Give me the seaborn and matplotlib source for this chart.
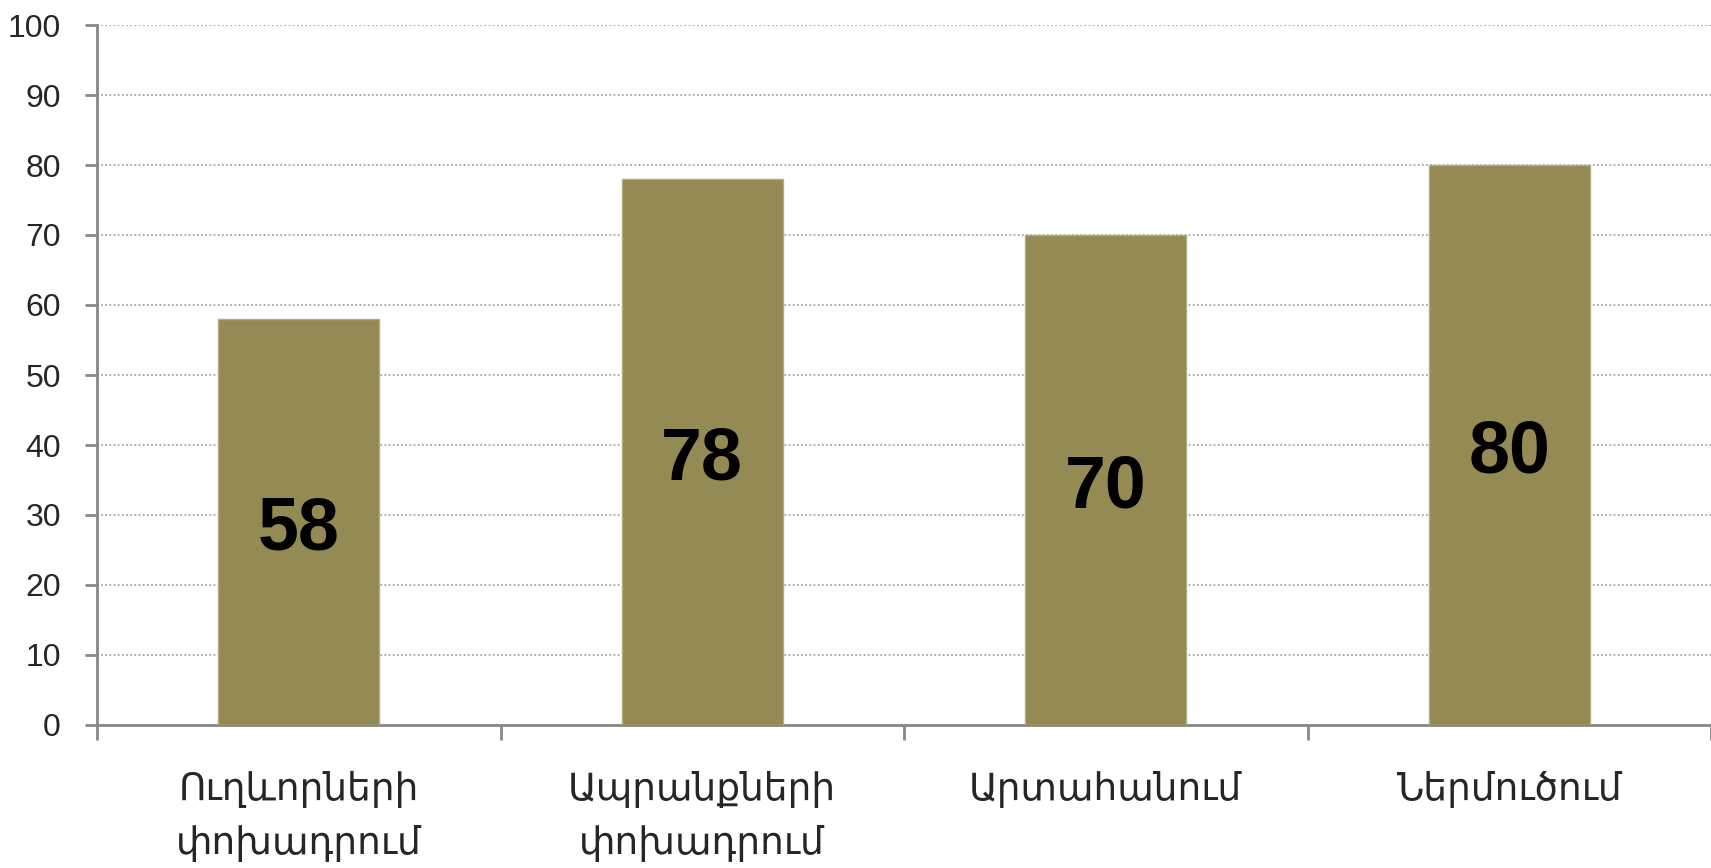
import numpy as np
import pandas as pd
import matplotlib
matplotlib.use("Agg")
import matplotlib.pyplot as plt
import seaborn as sns
from matplotlib.ticker import FixedLocator

categories = ["Ուղևորների\nփոխադրում", "Ապրանքների\nփոխադրում", "Արտահանում", "Ներմուծում"]
values = [58, 78, 70, 80]
y_ticks = [0, 10, 20, 30, 40, 50, 60, 70, 80, 90, 100]

sns.set_style("white")
plt.rcParams["font.family"] = ["Liberation Sans", "DejaVu Sans"]

df = pd.DataFrame({"category": categories, "value": values})

W, H = 1711, 868
fig = plt.figure(figsize=(W / 100, H / 100), dpi=100)
ax = fig.add_axes([97 / W, (H - 725) / H, (W - 97) / W, 700 / H])

sns.barplot(data=df, x="category", y="value", color="#948A54", saturation=1,
            width=0.4, edgecolor="#B5AD80", linewidth=1, ax=ax, zorder=3)

ax.set_ylim(0, 100)
ax.set_xlim(-0.5, len(categories) - 0.5)
ax.set_yticks(y_ticks)
ax.set_yticklabels([str(t) for t in y_ticks], fontsize=23)
ax.grid(axis="y", linestyle=(0, (1, 1.5)), color="#999999", linewidth=1.2, zorder=0)
ax.set_axisbelow(True)

for s in ["top", "right"]:
    ax.spines[s].set_visible(False)
for s in ["left", "bottom"]:
    ax.spines[s].set_color("#888888")
    ax.spines[s].set_linewidth(2)

# y ticks stick out to the left, x ticks mark the category boundaries
ax.tick_params(axis="y", length=9, width=2, color="#888888", pad=17, left=True)
ax.tick_params(axis="x", which="major", length=0, pad=33)
ax.xaxis.set_minor_locator(FixedLocator(np.arange(-0.5, len(categories), 1.0)))
ax.tick_params(axis="x", which="minor", length=11, width=2, color="#888888", bottom=True)
ax.set_xticklabels(categories, fontsize=27, family=["DejaVu Sans"], linespacing=1.6)
ax.set_xlabel("")
ax.set_ylabel("")

for i, v in enumerate(values):
    ax.text(i, v / 2, str(v), ha="center", va="center_baseline", fontsize=53,
            fontweight="bold", color="black", zorder=4)

fig.savefig("out.png", dpi=100, facecolor="white")
